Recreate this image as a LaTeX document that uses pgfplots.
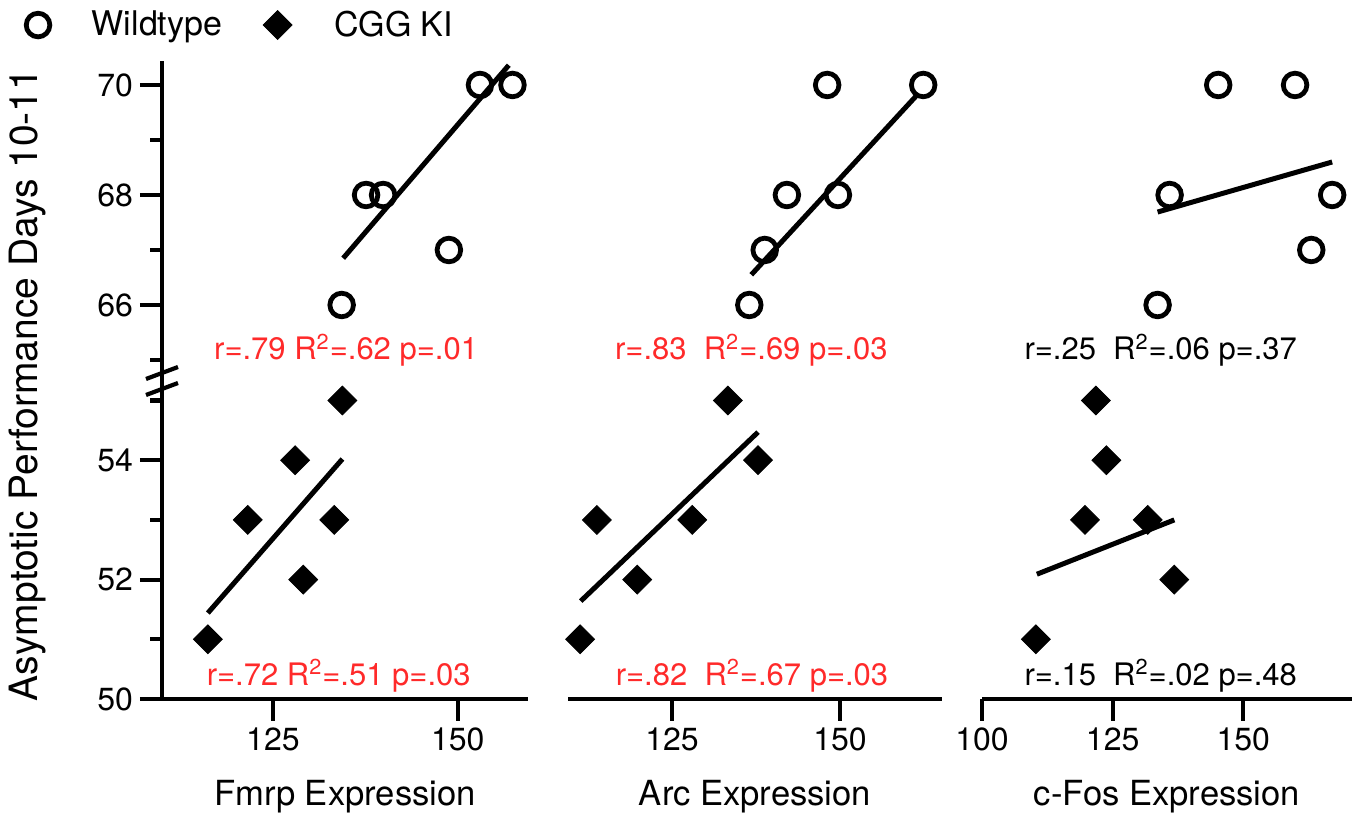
\documentclass[border=0pt]{standalone}
\usepackage{fontspec}
\setmainfont{TeX Gyre Heros}
\usepackage{pgfplots}
\pgfplotsset{compat=1.18}
\definecolor{statred}{HTML}{FF2A2A}

\tikzset{stat/.style={anchor=base, font=\fontsize{15.5}{18}\selectfont}}
\pgfplotsset{
  panel/.style={
    scale only axis, clip=false,
    tick align=outside, major tick length=11pt, minor tick length=6pt,
    tick style={black, line width=2.1pt},
    axis line style={black, line width=2.1pt},
    /pgf/number format/assume math mode=true,
    ticklabel style={font=\fontsize{16}{19}\selectfont},
    xlabel style={at={(axis description cs:0.5,0)}, anchor=base, yshift=-53pt,
      font=\fontsize{17.3}{20}\selectfont},
  },
  toprow/.style={panel, height=160.5pt, ymin=64.6, ymax=70.436,
    axis x line=none, xtick=\empty, ytick={66,68,70}, minor ytick={65,67,69}},
  botrow/.style={panel, height=158.5pt, ymin=50, ymax=55.31,
    axis x line*=bottom, ytick={50,52,54}, minor ytick={51,53,55}},
  noy/.style={axis y line=none, ytick=\empty, minor ytick={}},
  wt/.style={only marks, mark=o, mark size=5.9pt, mark options={line width=2.4pt, black, solid}},
  ki/.style={only marks, mark=square*, mark size=5.1pt,
    mark options={rotate=45, fill=black, draw=black, line width=0.4pt}},
  fit/.style={no marks, line width=2.5pt, black},
}

\begin{document}
\begin{tikzpicture}
\useasboundingbox (0,0) rectangle (680pt,409.5pt);

% ---- Fmrp ----
\begin{axis}[toprow, at={(81pt,218.5pt)}, anchor=south west, width=183pt,
  xmin=110, xmax=159.5, axis y line*=left,
  legend columns=2,
  legend style={draw=none, fill=none, inner sep=0pt, anchor=west,
    at={(axis description cs:-0.372,1.112)}, font=\fontsize{17}{20}\selectfont,
    /tikz/every odd column/.append style={column sep=19pt},
    /tikz/every even column/.append style={column sep=18.5pt}}]
\addlegendimage{wt}\addlegendentry{Wildtype}
\addlegendimage{ki}\addlegendentry{CGG KI}
\addplot[wt, forget plot] coordinates {(134.3,66)(137.6,68)(139.9,68)(148.8,67)(153.0,70)(157.4,70)};
\addplot[fit, forget plot] coordinates {(134.5,66.85)(156.9,70.36)};
\node[stat, text=statred] at (axis cs:134.9,65.0) {r=.79 R\textsuperscript{2}=.62 p=.01};
\draw[line width=2.1pt] ([xshift=-8pt,yshift=1.5pt]rel axis cs:0,0) -- ([xshift=8pt,yshift=7.5pt]rel axis cs:0,0);
\draw[line width=2.1pt] ([xshift=-8pt,yshift=-6.5pt]rel axis cs:0,0) -- ([xshift=8pt,yshift=-0.5pt]rel axis cs:0,0);
\end{axis}

\begin{axis}[botrow, at={(81pt,60pt)}, anchor=south west, width=183pt,
  xmin=110, xmax=159.5, axis y line*=left, xtick={125,150},
  xlabel={Fmrp Expression}]
\addplot[ki] coordinates {(134.4,55)(128.0,54)(121.6,53)(133.3,53)(129.1,52)(116.2,51)};
\addplot[fit] coordinates {(116.2,51.44)(134.4,54.02)};
\node[stat, text=statred] at (axis cs:133.9,50.23) {r=.72 R\textsuperscript{2}=.51 p=.03};
\end{axis}

% ---- Arc ----
\begin{axis}[toprow, noy, at={(284pt,218.5pt)}, anchor=south west, width=187pt,
  xmin=109.5, xmax=165.2]
\addplot[wt] coordinates {(148.1,70)(162.4,70)(142.1,68)(149.7,68)(138.8,67)(136.5,66)};
\addplot[fit] coordinates {(136.8,66.55)(161.5,69.82)};
\node[stat, text=statred] at (axis cs:136.8,65.0) {r=.83\ \ R\textsuperscript{2}=.69 p=.03};
\end{axis}

\begin{axis}[botrow, noy, at={(284pt,60pt)}, anchor=south west, width=187pt,
  xmin=109.5, xmax=165.2, xtick={125,150},
  xlabel={Arc Expression}]
\addplot[ki] coordinates {(133.3,55)(137.8,54)(113.8,53)(128.0,53)(119.8,52)(111.3,51)};
\addplot[fit] coordinates {(111.4,51.64)(137.8,54.47)};
\node[stat, text=statred] at (axis cs:136.9,50.23) {r=.82\ \ R\textsuperscript{2}=.67 p=.03};
\end{axis}

% ---- c-Fos ----
\begin{axis}[toprow, noy, at={(491pt,218.5pt)}, anchor=south west, width=185pt,
  xmin=100, xmax=170.8]
\addplot[wt] coordinates {(145.2,70)(159.9,70)(135.9,68)(167.0,68)(163.0,67)(133.6,66)};
\addplot[fit] coordinates {(133.6,67.69)(167.0,68.6)};
\node[stat] at (axis cs:134.2,65.0) {r=.25\ \ R\textsuperscript{2}=.06 p=.37};
\end{axis}

\begin{axis}[botrow, noy, at={(491pt,60pt)}, anchor=south west, width=185pt,
  xmin=100, xmax=170.8, xtick={100,125,150},
  xlabel={c-Fos Expression}]
\addplot[ki] coordinates {(121.8,55)(123.8,54)(119.7,53)(131.7,53)(136.8,52)(110.3,51)};
\addplot[fit] coordinates {(110.5,52.09)(136.8,53.0)};
\node[stat] at (axis cs:134.2,50.23) {r=.15\ \ R\textsuperscript{2}=.02 p=.48};
\end{axis}

\node[rotate=90, anchor=base, font=\fontsize{19.5}{23}\selectfont] at (19pt,217pt)
  {Asymptotic Performance Days 10-11};
\end{tikzpicture}
\end{document}
